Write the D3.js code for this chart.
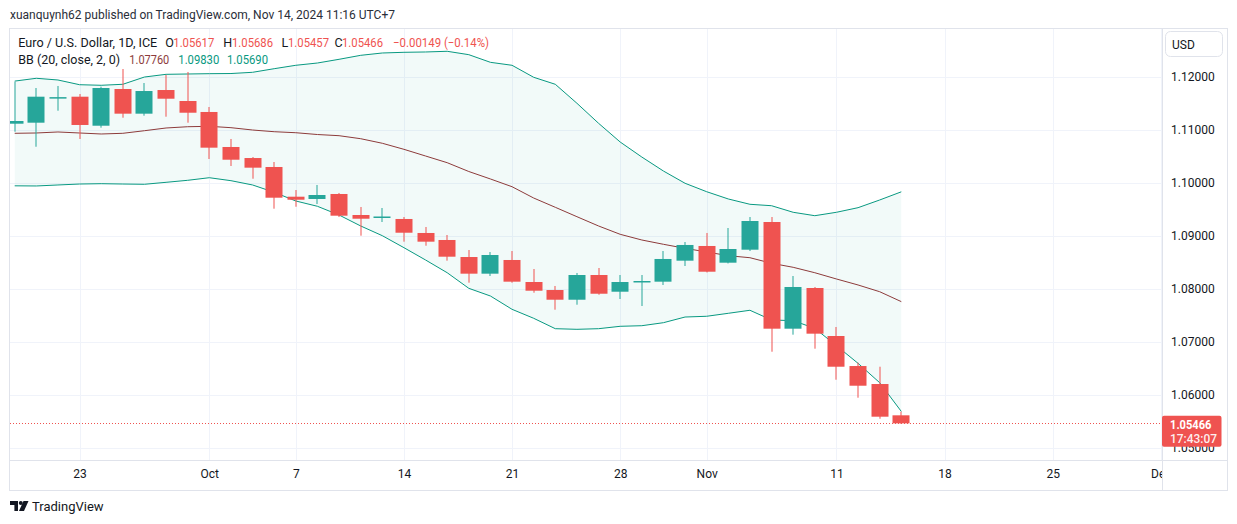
<!DOCTYPE html>
<html>
<head>
<meta charset="utf-8">
<script src="https://cdn.jsdelivr.net/npm/d3@7/dist/d3.min.js"></script>
<style>
  html, body { margin: 0; padding: 0; background: #ffffff; }
  svg { display: block; font-family: Roboto, "Noto Sans", sans-serif; }
</style>
</head>
<body>
<svg id="chart" width="1237" height="524"></svg>
<script>
// ---------- DATA ----------
const dates = ["Sep 18","Sep 19","Sep 20","Sep 23","Sep 24","Sep 25","Sep 26","Sep 27","Sep 30",
  "Oct 1","Oct 2","Oct 3","Oct 4","Oct 7","Oct 8","Oct 9","Oct 10","Oct 11","Oct 14","Oct 15",
  "Oct 16","Oct 17","Oct 18","Oct 21","Oct 22","Oct 23","Oct 24","Oct 25","Oct 28","Oct 29",
  "Oct 30","Oct 31","Nov 1","Nov 4","Nov 5","Nov 6","Nov 7","Nov 8","Nov 11","Nov 12","Nov 13","Nov 14"];
const openP  = [1.11114,1.11133,1.11605,1.11623,1.11076,1.11768,1.11303,1.11749,1.11542,
  1.11335,1.10675,1.10467,1.10298,1.09738,1.09695,1.09789,1.09393,1.09345,1.09318,1.09054,
  1.08922,1.08601,1.08287,1.08545,1.08130,1.07979,1.07796,1.08262,1.07947,1.08121,
  1.08136,1.08532,1.08809,1.08494,1.08739,1.09261,1.07250,1.08017,1.07112,1.06546,1.06207,1.05617];
const highP  = [1.11906,1.11787,1.11825,1.11674,1.11812,1.12145,1.11881,1.12032,1.12089,
  1.11429,1.10826,1.10486,1.10392,1.09864,1.09959,1.09808,1.09544,1.09525,1.09355,1.09167,
  1.09016,1.08733,1.08695,1.08714,1.08375,1.08055,1.08300,1.08394,1.08262,1.08262,
  1.08714,1.08884,1.09054,1.09148,1.09355,1.09355,1.08243,1.08036,1.07282,1.06609,1.06533,1.05686];
const lowP   = [1.10963,1.10680,1.11359,1.10826,1.11039,1.11227,1.11265,1.11246,1.11133,
  1.10449,1.10317,1.10077,1.09512,1.09549,1.09600,1.09355,1.09003,1.09261,1.08890,1.08814,
  1.08532,1.08117,1.08243,1.08117,1.07928,1.07608,1.07702,1.07890,1.07810,1.07678,
  1.08074,1.08432,1.08310,1.08480,1.08714,1.06816,1.07137,1.06873,1.06288,1.05949,1.05553,1.05457];
const closeP = [1.11165,1.11623,1.11615,1.11090,1.11787,1.11303,1.11730,1.11585,1.11321,
  1.10662,1.10435,1.10285,1.09719,1.09681,1.09770,1.09380,1.09323,1.09365,1.09059,1.08890,
  1.08607,1.08287,1.08639,1.08136,1.07966,1.07796,1.08262,1.07909,1.08130,1.08149,
  1.08564,1.08828,1.08324,1.08752,1.09280,1.07250,1.08036,1.07156,1.06533,1.06175,1.05591,1.05466];
const bbUpper = [1.11917,1.11970,1.11938,1.11849,1.11838,1.11857,1.11994,1.12045,1.12051,
  1.12057,1.12060,1.12083,1.12151,1.12215,1.12258,1.12328,1.12403,1.12447,1.12460,1.12466,
  1.12479,1.12415,1.12271,1.12215,1.11989,1.11857,1.11499,1.11122,1.10769,1.10486,
  1.10222,1.09991,1.09832,1.09695,1.09595,1.09568,1.09444,1.09380,1.09444,1.09531,1.09676,1.09830];
const bbBasis = [1.10933,1.10939,1.10958,1.10939,1.10920,1.10933,1.10982,1.11033,1.11057,
  1.11065,1.11039,1.10995,1.10963,1.10944,1.10910,1.10888,1.10831,1.10745,1.10631,1.10505,
  1.10379,1.10213,1.10072,1.09926,1.09713,1.09538,1.09361,1.09186,1.09029,1.08922,
  1.08841,1.08765,1.08696,1.08626,1.08588,1.08483,1.08407,1.08305,1.08187,1.08074,1.07947,1.07760];
const bbLower = [1.09943,1.09940,1.09959,1.09977,1.09983,1.09977,1.09972,1.10009,1.10047,
  1.10096,1.10040,1.09959,1.09821,1.09657,1.09557,1.09393,1.09186,1.09003,1.08777,1.08545,
  1.08305,1.08011,1.07866,1.07615,1.07446,1.07250,1.07238,1.07250,1.07295,1.07306,
  1.07363,1.07470,1.07484,1.07540,1.07597,1.07414,1.07401,1.07257,1.06929,1.06597,1.06232,1.05690];
const priceTicks = [1.05,1.06,1.07,1.08,1.09,1.10,1.11,1.12];
const timeTickLabels = ["23","Oct","7","14","21","28","Nov","11","18","25","Dec"];
const timeTickIndex  = [3,9,13,18,23,28,32,38,43,48,53];
const lastPrice = 1.05466;
const countdown = "17:43:07";
const changeText = "−0.00149 (−0.14%)";

// ---------- LAYOUT ----------
const svg = d3.select("#chart");
const plot = {left: 10, right: 1162, top: 29, bottom: 460};
const C = {up: "#26a69a", down: "#ef5350", band: "#089981", basis: "#8d3b3b",
  text: "#131722", grid: "#f0f3fa", border: "#e0e3eb", fill: "rgba(8,153,129,0.05)"};

const x = d3.scaleLinear().domain([0, 41]).range([14.7, 901.3]);
const step = x(1) - x(0);
const y = d3.scaleLinear().domain([1.05, 1.12]).range([448.05, 76.7]);

const defs = svg.append("defs");
defs.append("clipPath").attr("id", "clip")
  .append("rect").attr("x", plot.left).attr("y", plot.top)
  .attr("width", plot.right - plot.left).attr("height", plot.bottom - plot.top);
defs.append("clipPath").attr("id", "clipT")
  .append("rect").attr("x", plot.left).attr("y", plot.bottom)
  .attr("width", plot.right - plot.left).attr("height", 30);

// grid
const grid = svg.append("g").attr("clip-path", "url(#clip)");
grid.selectAll(".hg").data(priceTicks).join("line")
  .attr("x1", plot.left).attr("x2", plot.right)
  .attr("y1", d => Math.round(y(d)) + 0.5).attr("y2", d => Math.round(y(d)) + 0.5)
  .attr("stroke", C.grid);
grid.selectAll(".vg").data(timeTickIndex).join("line")
  .attr("y1", plot.top).attr("y2", plot.bottom)
  .attr("x1", d => Math.round(x(d)) + 0.5).attr("x2", d => Math.round(x(d)) + 0.5)
  .attr("stroke", C.grid);

const g = svg.append("g").attr("clip-path", "url(#clip)");
const idx = d3.range(dates.length);

// BB fill
g.append("path").datum(idx)
  .attr("d", d3.area().x(i => x(i)).y0(i => y(bbLower[i])).y1(i => y(bbUpper[i])))
  .attr("fill", C.fill);
const line = arr => d3.line().x(i => x(i)).y(i => y(arr[i]));
g.append("path").datum(idx).attr("d", line(bbUpper)).attr("fill", "none").attr("stroke", C.band).attr("stroke-width", 1);
g.append("path").datum(idx).attr("d", line(bbLower)).attr("fill", "none").attr("stroke", C.band).attr("stroke-width", 1);
g.append("path").datum(idx).attr("d", line(bbBasis)).attr("fill", "none").attr("stroke", C.basis).attr("stroke-width", 1);

// candles
const bw = Math.round(step * 0.77);
const cg = g.selectAll(".c").data(idx).join("g");
cg.append("rect")
  .attr("x", i => Math.round(x(i)) - 0.5).attr("width", 1)
  .attr("y", i => y(highP[i])).attr("height", i => y(lowP[i]) - y(highP[i]))
  .attr("fill", i => closeP[i] >= openP[i] ? C.up : C.down);
cg.append("rect")
  .attr("x", i => Math.round(x(i)) - bw / 2)
  .attr("width", bw)
  .attr("y", i => y(Math.max(openP[i], closeP[i])))
  .attr("height", i => Math.max(1.5, Math.abs(y(openP[i]) - y(closeP[i]))))
  .attr("fill", i => closeP[i] >= openP[i] ? C.up : C.down);

// last price dotted line
svg.append("line").attr("x1", plot.left).attr("x2", plot.right)
  .attr("y1", Math.round(y(lastPrice)) + 0.5).attr("y2", Math.round(y(lastPrice)) + 0.5)
  .attr("stroke", C.down).attr("stroke-dasharray", "1,2");

// frame
svg.append("rect").attr("x", 9.5).attr("y", 28.5).attr("width", 1218).attr("height", 462)
  .attr("fill", "none").attr("stroke", C.border);
svg.append("line").attr("x1", plot.right + 0.5).attr("x2", plot.right + 0.5)
  .attr("y1", 28.5).attr("y2", 490.5).attr("stroke", C.border);
svg.append("line").attr("x1", 9.5).attr("x2", 1227.5)
  .attr("y1", plot.bottom + 0.5).attr("y2", plot.bottom + 0.5).attr("stroke", C.border);

// y axis
const yAxis = d3.axisRight(y).tickValues(priceTicks).tickSize(0).tickPadding(0)
  .tickFormat(d3.format(".5f"));
const ya = svg.append("g").attr("transform", `translate(${1171},0)`).call(yAxis);
ya.select(".domain").remove();
ya.selectAll("text").attr("fill", C.text).attr("font-size", 12).attr("font-family", "Roboto, sans-serif");

// x axis
const xWrap = svg.append("g").attr("clip-path", "url(#clipT)");
const xAxis = d3.axisBottom(x).tickValues(timeTickIndex).tickSize(0).tickPadding(0)
  .tickFormat((d, i) => timeTickLabels[i]);
const xa = xWrap.append("g").attr("transform", `translate(0,${469})`).call(xAxis);
xa.select(".domain").remove();
xa.selectAll("text").attr("fill", C.text).attr("font-size", 12).attr("font-family", "Roboto, sans-serif");

// USD box
svg.append("rect").attr("x", 1165.5).attr("y", 31.5).attr("width", 57).attr("height", 25).attr("rx", 5)
  .attr("fill", "#fff").attr("stroke", C.border);
svg.append("text").attr("x", 1172).attr("y", 48.5).text("USD")
  .attr("font-size", 12).attr("fill", C.text);

// last price label
svg.append("rect").attr("x", 1162).attr("y", 415.7).attr("width", 59.5).attr("height", 31).attr("rx", 2)
  .attr("fill", C.down);
svg.append("text").attr("x", 1170).attr("y", 428.8).text(d3.format(".5f")(lastPrice))
  .attr("font-size", 12).attr("font-weight", "bold").attr("fill", "#fff")
  .attr("textLength", 41.5).attr("lengthAdjust", "spacingAndGlyphs");
svg.append("text").attr("x", 1170).attr("y", 443.3).text(countdown)
  .attr("font-size", 12).attr("font-weight", 500).attr("fill", "#fff").attr("fill-opacity", 0.92)
  .attr("textLength", 47).attr("lengthAdjust", "spacingAndGlyphs");

// header
svg.append("text").attr("x", 10).attr("y", 19)
  .text("xuanquynh62 published on TradingView.com, Nov 14, 2024 11:16 UTC+7")
  .attr("font-size", 12).attr("fill", "#2a2e39");

const hdr = (txt, xx, yy, col, w) => {
  const t = svg.append("text").attr("x", xx).attr("y", yy).attr("font-size", 12.5)
    .attr("fill", col).text(txt);
  if (w) t.attr("textLength", w).attr("lengthAdjust", "spacingAndGlyphs");
  return t;
};
hdr("Euro / U.S. Dollar, 1D, ICE", 18.3, 46.5, C.text, 139);
const legendVals = [["O", openP[41], 165.3, 173.3], ["H", highP[41], 223.3, 232],
  ["L", lowP[41], 281.5, 288], ["C", closeP[41], 334.5, 342]];
legendVals.forEach(([k, v, kx, vx]) => {
  hdr(k, kx, 46.5, C.text);
  hdr(d3.format(".5f")(v), vx, 46.5, C.down, 41);
});
hdr(changeText, 393, 46.5, C.down, 96);

hdr("BB (20, close, 2, 0)", 18.3, 63.5, C.text, 101.7);
hdr(d3.format(".5f")(bbBasis[41]), 129.3, 63.5, C.basis, 40);
hdr(d3.format(".5f")(bbUpper[41]), 178.3, 63.5, C.band, 41);
hdr(d3.format(".5f")(bbLower[41]), 227, 63.5, C.band, 41);

// footer logo
const logo = svg.append("g").attr("fill", "#131722");
logo.append("path").attr("d", "M10,501 h8 v10 h-3.6 v-6 h-4.4 z");
logo.append("circle").attr("cx", 20.8).attr("cy", 503).attr("r", 2);
logo.append("path").attr("d", "M23.5,501 h5 l-4.5,10 h-5 z");
svg.append("text").attr("x", 32).attr("y", 511).text("TradingView")
  .attr("font-size", 13).attr("fill", "#131722");
</script>
</body>
</html>
